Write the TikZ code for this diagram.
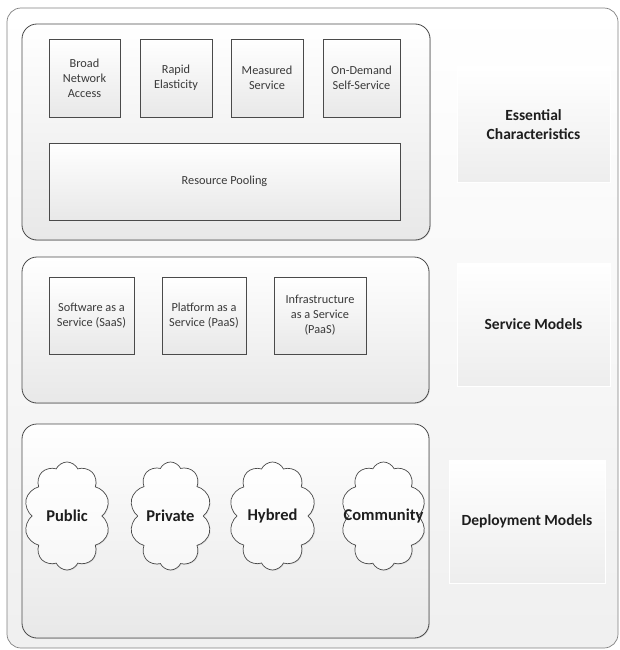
\documentclass[tikz,border=0pt]{standalone}
\usepackage{fontspec}
\setmainfont{Carlito}
\usetikzlibrary{shapes.symbols,shadows}
\definecolor{edge}{HTML}{4A4A4A}
\definecolor{txt}{HTML}{3A3A3A}
\definecolor{lbl}{HTML}{1E1E1E}
\tikzset{
  outerframe/.style={draw=edge!70, line width=0.7pt, rounded corners=14pt,
    top color=white, bottom color=black!6, inner sep=0pt},
  panel/.style={draw=edge, line width=0.8pt, rounded corners=15pt,
    top color=white, bottom color=black!9, inner sep=0pt,
    drop shadow={shadow xshift=0.8pt, shadow yshift=-0.8pt, opacity=0.25}},
  smallbox/.style={draw=edge, line width=0.8pt, top color=white, bottom color=black!9,
    inner sep=0pt, align=center, text=txt,
    font=\fontsize{12.3}{15}\selectfont,
    drop shadow={shadow xshift=0.8pt, shadow yshift=-0.8pt, opacity=0.25}},
  labelbox/.style={draw=white, line width=1pt, top color=white, bottom color=black!7,
    inner sep=0pt, align=center, text=lbl,
    font=\fontsize{15.5}{19}\selectfont\bfseries},
  cloudbox/.style={cloud, cloud puffs=10, cloud puff arc=130, cloud ignores aspect,
    draw=edge, line width=0.7pt, top color=white, bottom color=black!3, inner sep=0pt,
    drop shadow={shadow xshift=0.8pt, shadow yshift=-0.8pt, opacity=0.2}},
  cloudtext/.style={inner sep=0pt, text=lbl, font=\fontsize{16.5}{19}\selectfont\bfseries}
}
\begin{document}
\begin{tikzpicture}[x=1pt,y=-1pt]
\useasboundingbox (0,0) rectangle (619,650);
\node[outerframe, minimum width=611pt, minimum height=640pt] (outer) at (312.5,328) {};

% Essential characteristics
\node[panel, minimum width=408pt, minimum height=216pt] (ecpanel) at (226,132) {};
\node[smallbox, minimum width=71pt, minimum height=78pt] (bna) at (84.5,78) {Broad\\Network\\Access};
\node[smallbox, minimum width=72pt, minimum height=78pt] (re) at (176,78) {Rapid\\Elasticity};
\node[smallbox, minimum width=72pt, minimum height=78pt] (ms) at (267,78) {Measured\\Service};
\node[smallbox, minimum width=77pt, minimum height=78pt] (ods) at (361.5,78) {On-Demand\\Self-Service};
\node[smallbox, minimum width=351pt, minimum height=77pt] (rp) at (224.5,181.5) {Resource Pooling};
\node[labelbox, minimum width=153pt, minimum height=115pt] (eclabel) at (533.5,124.5) {Essential\\Characteristics};

% Service models
\node[panel, minimum width=407pt, minimum height=146pt] (smpanel) at (225.5,330) {};
\node[smallbox, minimum width=85pt, minimum height=77pt] (saas) at (91.5,315.5) {Software as a\\Service (SaaS)};
\node[smallbox, minimum width=84pt, minimum height=77pt] (paas) at (204,315.5) {Platform as a\\Service (PaaS)};
\node[smallbox, minimum width=92pt, minimum height=77pt] (iaas) at (320,315.5) {Infrastructure\\as a Service\\(PaaS)};
\node[labelbox, minimum width=153pt, minimum height=123pt] (smlabel) at (533.5,324.5) {Service Models};

% Deployment models
\node[panel, minimum width=407pt, minimum height=214pt] (dmpanel) at (225.5,531) {};
\node[cloudbox, minimum width=86pt, minimum height=108pt] (public) at (67,516) {};
\node[cloudtext] (publict) at (public.center) {Public};
\node[cloudbox, minimum width=82pt, minimum height=108pt] (private) at (170.5,516) {};
\node[cloudtext] (privatet) at (private.center) {Private};
\node[cloudbox, minimum width=87pt, minimum height=108pt] (hybred) at (272.5,516) {};
\node[cloudtext] (hybredt) at (hybred.center) {Hybred};
\node[cloudbox, minimum width=85pt, minimum height=108pt] (community) at (383.5,516) {};
\node[cloudtext] (communityt) at (community.center) {Community};
\node[labelbox, minimum width=156pt, minimum height=123pt] (dmlabel) at (527,521.5) {Deployment Models};
\end{tikzpicture}
\end{document}
